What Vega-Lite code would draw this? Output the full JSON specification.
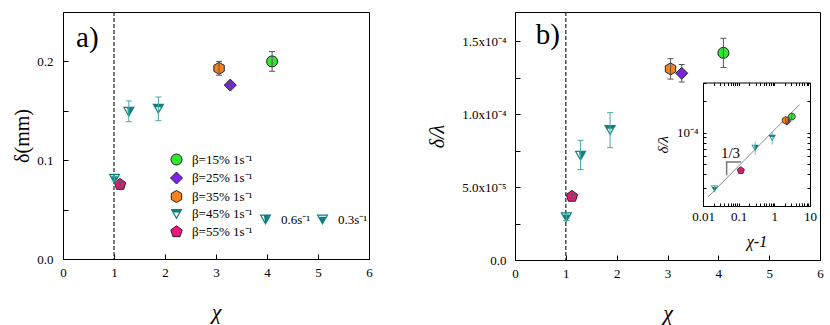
{
  "$schema": "https://vega.github.io/schema/vega-lite/v6.json",
  "background": "white",
  "padding": {"left": 12, "top": 10, "right": 5, "bottom": 5},
  "config": {
    "font": "Liberation Serif",
    "view": {"stroke": "black", "strokeWidth": 1},
    "axis": {"grid": false, "domainColor": "black", "tickColor": "black", "labelColor": "black", "titleColor": "black", "labelFont": "Liberation Serif", "titleFont": "Liberation Serif", "labelFontSize": 13, "titleFontWeight": "normal", "labelFlush": false, "labelOverlap": false},
    "legend": {"labelFont": "Liberation Serif", "labelFontSize": 13, "labelColor": "black"},
    "text": {"font": "Liberation Serif", "color": "black"}
  },
  "datasets": {
    "pts": [
      {"m": "β=15% 1s⁻¹", "chi": 4.10, "d": 0.200, "dlo": 0.190, "dhi": 0.210, "r": 1.42e-4, "rlo": 1.32e-4, "rhi": 1.52e-4, "x1": 3.10},
      {"m": "β=25% 1s⁻¹", "chi": 3.28, "d": 0.176, "dlo": 0.173, "dhi": 0.179, "r": 1.28e-4, "rlo": 1.22e-4, "rhi": 1.34e-4, "x1": 2.28},
      {"m": "β=35% 1s⁻¹", "chi": 3.06, "d": 0.193, "dlo": 0.186, "dhi": 0.200, "r": 1.31e-4, "rlo": 1.24e-4, "rhi": 1.38e-4, "x1": 2.06},
      {"m": "β=45% 1s⁻¹", "chi": 1.87, "d": 0.152, "dlo": 0.140, "dhi": 0.164, "r": 8.9e-5, "rlo": 7.7e-5, "rhi": 1.01e-4, "x1": 0.87},
      {"m": "β=55% 1s⁻¹", "chi": 1.12, "d": 0.0757, "dlo": 0.0737, "dhi": 0.0777, "r": 4.38e-5, "rlo": 4.25e-5, "rhi": 4.5e-5, "x1": 0.115},
      {"m": "0.6s⁻¹", "chi": 1.29, "d": 0.149, "dlo": 0.139, "dhi": 0.160, "r": 7.14e-5, "rlo": 6.2e-5, "rhi": 8.2e-5, "x1": 0.29},
      {"m": "0.3s⁻¹", "chi": 1.01, "d": 0.081, "dlo": 0.079, "dhi": 0.083, "r": 2.92e-5, "rlo": 2.7e-5, "rhi": 3.15e-5, "x1": 0.021}
    ],
    "fit": [
      {"x1": 0.014, "r": 2.45e-5},
      {"x1": 5.1, "r": 1.85e-4}
    ],
    "bracket": [
      {"x1": 0.046, "r": 3.93e-5, "o": 0},
      {"x1": 0.046, "r": 5.25e-5, "o": 1},
      {"x1": 0.117, "r": 5.25e-5, "o": 2}
    ]
  },
  "spacing": 54,
  "hconcat": [
    {
      "width": 306,
      "height": 247,
      "data": {"name": "pts"},
      "resolve": {
        "scale": {"shape": "independent", "fill": "independent", "stroke": "independent"},
        "legend": {"shape": "independent", "fill": "independent", "stroke": "independent"}
      },
      "layer": [
        {
          "data": {"values": [{}]},
          "mark": {"type": "rule", "strokeDash": [4, 2], "color": "#222", "strokeWidth": 1.2},
          "encoding": {"x": {"datum": 1, "type": "quantitative"}}
        },
        {
          "transform": [{"filter": "datum.m != '0.6s⁻¹' && datum.m != '0.3s⁻¹'"}],
          "mark": {"type": "point", "filled": true, "opacity": 1, "size": 144, "strokeWidth": 1},
          "encoding": {
            "x": {"field": "chi", "type": "quantitative", "scale": {"domain": [0, 6], "nice": false},
              "axis": {"orient": "bottom", "title": "χ", "titleFontSize": 22, "titleFontStyle": "italic", "titlePadding": 22, "values": [0, 1, 2, 3, 4, 5, 6], "format": "d", "tickSize": -5, "labelPadding": 12}},
            "y": {"field": "d", "type": "quantitative", "scale": {"domain": [0, 0.25], "nice": false},
              "axis": {"orient": "left", "title": "δ(mm)", "titleFontSize": 20, "titlePadding": 4, "values": [0, 0.05, 0.1, 0.15, 0.2], "labelExpr": "round(datum.value*20)%2==0 ? format(datum.value,'.1f') : ''", "tickSize": -5, "labelPadding": 15}},
            "shape": {"field": "m", "type": "nominal",
              "scale": {"domain": ["β=15% 1s⁻¹", "β=25% 1s⁻¹", "β=35% 1s⁻¹", "β=45% 1s⁻¹", "β=55% 1s⁻¹"],
                "range": ["M-0.92,0A0.92,0.92 0 1,0 0.92,0A0.92,0.92 0 1,0 -0.92,0Z", "M0,-1L1,0L0,1L-1,0Z", "M0,-1L0.866,-0.5L0.866,0.5L0,1L-0.866,0.5L-0.866,-0.5Z", "M-1,-0.85L1,-0.85L0,0.9ZM-0.66,-0.64L0,0.5L0.66,-0.64ZM-1,-0.85L1,-0.85L0.657,-0.25L-0.657,-0.25Z", "M0,-0.95L0.951,-0.26L0.588,0.86L-0.588,0.86L-0.951,-0.26Z"]},
              "legend": {"title": null, "orient": "none", "legendX": 107, "legendY": 141, "symbolSize": 144, "rowPadding": 1.5, "labelOffset": 9, "padding": 0, "symbolStrokeWidth": 1, "labelFontSize": 13}},
            "fill": {"field": "m", "type": "nominal",
              "scale": {"domain": ["β=15% 1s⁻¹", "β=25% 1s⁻¹", "β=35% 1s⁻¹", "β=45% 1s⁻¹", "β=55% 1s⁻¹"],
                "range": ["#32e632", "#7d22ee", "#f58220", "#10807f", "#f0147e"]},
              "legend": {"title": null, "orient": "none", "legendX": 107, "legendY": 141, "symbolSize": 144, "rowPadding": 1.5, "labelOffset": 9, "padding": 0, "symbolStrokeWidth": 1, "labelFontSize": 13}},
            "stroke": {"field": "m", "type": "nominal",
              "scale": {"domain": ["β=15% 1s⁻¹", "β=25% 1s⁻¹", "β=35% 1s⁻¹", "β=45% 1s⁻¹", "β=55% 1s⁻¹"],
                "range": ["#222", "#222", "#222", "transparent", "#222"]},
              "legend": {"title": null, "orient": "none", "legendX": 107, "legendY": 141, "symbolSize": 144, "rowPadding": 1.5, "labelOffset": 9, "padding": 0, "symbolStrokeWidth": 1, "labelFontSize": 13}}
          }
        },
        {
          "transform": [{"filter": "datum.m == '0.6s⁻¹' || datum.m == '0.3s⁻¹'"}],
          "mark": {"type": "point", "filled": true, "opacity": 1, "size": 144, "strokeWidth": 1},
          "encoding": {
            "x": {"field": "chi", "type": "quantitative"},
            "y": {"field": "d", "type": "quantitative"},
            "shape": {"field": "m", "type": "nominal",
              "scale": {"domain": ["0.6s⁻¹", "0.3s⁻¹"],
                "range": ["M-1,-0.85L1,-0.85L0,0.9ZM-0.66,-0.64L0,0.5L0.66,-0.64ZM-0.3,-0.85L1,-0.85L0,0.9Z", "M-1,-0.85L1,-0.85L0,0.9ZM-0.66,-0.64L0,0.5L0.66,-0.64ZM-0.771,-0.45L0.771,-0.45L0,0.9Z"]},
              "legend": {"title": null, "orient": "none", "direction": "horizontal", "legendX": 196, "legendY": 201, "symbolSize": 144, "columnPadding": 3, "labelOffset": 9, "padding": 0, "symbolStrokeWidth": 1, "labelFontSize": 13}},
            "fill": {"field": "m", "type": "nominal",
              "scale": {"domain": ["0.6s⁻¹", "0.3s⁻¹"], "range": ["#10807f", "#10807f"]},
              "legend": {"title": null, "orient": "none", "direction": "horizontal", "legendX": 196, "legendY": 201, "symbolSize": 144, "columnPadding": 3, "labelOffset": 9, "padding": 0, "symbolStrokeWidth": 1, "labelFontSize": 13}},
            "stroke": {"field": "m", "type": "nominal",
              "scale": {"domain": ["0.6s⁻¹", "0.3s⁻¹"], "range": ["transparent", "transparent"]},
              "legend": {"title": null, "orient": "none", "direction": "horizontal", "legendX": 196, "legendY": 201, "symbolSize": 144, "columnPadding": 3, "labelOffset": 9, "padding": 0, "symbolStrokeWidth": 1, "labelFontSize": 13}}
          }
        },
        {
          "mark": {"type": "rule", "strokeWidth": 1},
          "encoding": {
            "x": {"field": "chi", "type": "quantitative"},
            "y": {"field": "dlo", "type": "quantitative"},
            "y2": {"field": "dhi"},
            "color": {"field": "m", "type": "nominal", "legend": null,
              "scale": {"domain": ["β=15% 1s⁻¹", "β=25% 1s⁻¹", "β=35% 1s⁻¹", "β=45% 1s⁻¹", "β=55% 1s⁻¹", "0.6s⁻¹", "0.3s⁻¹"], "range": ["#555", "#555", "#555", "#4aa8a8", "#555", "#4aa8a8", "#4aa8a8"]}}
          }
        },
        {
          "mark": {"type": "tick", "orient": "horizontal", "size": 6, "thickness": 1, "opacity": 1},
          "encoding": {
            "x": {"field": "chi", "type": "quantitative"},
            "y": {"field": "dlo", "type": "quantitative"},
            "color": {"field": "m", "type": "nominal", "legend": null}
          }
        },
        {
          "mark": {"type": "tick", "orient": "horizontal", "size": 6, "thickness": 1, "opacity": 1},
          "encoding": {
            "x": {"field": "chi", "type": "quantitative"},
            "y": {"field": "dhi", "type": "quantitative"},
            "color": {"field": "m", "type": "nominal", "legend": null}
          }
        },
        {
          "data": {"values": [{}]},
          "mark": {"type": "text", "text": "a)", "fontSize": 29, "align": "left", "baseline": "alphabetic"},
          "encoding": {
            "x": {"datum": 0.255, "type": "quantitative"},
            "y": {"datum": 0.2144, "type": "quantitative"}
          }
        }
      ]
    },
    {
      "width": 305,
      "height": 248,
      "resolve": {
        "scale": {"x": "independent", "y": "independent", "shape": "independent", "fill": "independent", "stroke": "independent", "color": "independent"},
        "axis": {"x": "independent", "y": "independent"}
      },
      "layer": [
        {
          "data": {"name": "pts"},
          "layer": [
            {
              "data": {"values": [{}]},
              "mark": {"type": "rule", "strokeDash": [4, 2], "color": "#222", "strokeWidth": 1.2},
              "encoding": {"x": {"datum": 1, "type": "quantitative"}}
            },
            {
              "mark": {"type": "point", "filled": true, "opacity": 1, "size": 144, "strokeWidth": 1},
              "encoding": {
                "x": {"field": "chi", "type": "quantitative", "scale": {"domain": [0, 6], "nice": false},
                  "axis": {"orient": "bottom", "title": "χ", "titleFontSize": 22, "titleFontStyle": "italic", "titlePadding": 22, "values": [0, 1, 2, 3, 4, 5, 6], "format": "d", "tickSize": -5, "labelPadding": 12}},
                "y": {"field": "r", "type": "quantitative", "scale": {"domain": [0, 0.00017], "nice": false},
                  "axis": {"orient": "left", "title": "δ/λ", "titleFontSize": 20, "titleFontStyle": "italic", "titlePadding": 14, "values": [0, 0.000025, 0.00005, 0.000075, 0.0001, 0.000125, 0.00015], "labelExpr": "round(datum.value*40000)==0 ? '0.0' : round(datum.value*40000)==2 ? '5.0x10⁻⁵' : round(datum.value*40000)==4 ? '1.0x10⁻⁴' : round(datum.value*40000)==6 ? '1.5x10⁻⁴' : ''", "tickSize": -5, "labelPadding": 14}},
                "shape": {"field": "m", "type": "nominal", "legend": null,
                  "scale": {"domain": ["β=15% 1s⁻¹", "β=25% 1s⁻¹", "β=35% 1s⁻¹", "β=45% 1s⁻¹", "β=55% 1s⁻¹", "0.6s⁻¹", "0.3s⁻¹"],
                    "range": ["M-0.92,0A0.92,0.92 0 1,0 0.92,0A0.92,0.92 0 1,0 -0.92,0Z", "M0,-1L1,0L0,1L-1,0Z", "M0,-1L0.866,-0.5L0.866,0.5L0,1L-0.866,0.5L-0.866,-0.5Z", "M-1,-0.85L1,-0.85L0,0.9ZM-0.66,-0.64L0,0.5L0.66,-0.64ZM-1,-0.85L1,-0.85L0.657,-0.25L-0.657,-0.25Z", "M0,-0.95L0.951,-0.26L0.588,0.86L-0.588,0.86L-0.951,-0.26Z", "M-1,-0.85L1,-0.85L0,0.9ZM-0.66,-0.64L0,0.5L0.66,-0.64ZM-0.3,-0.85L1,-0.85L0,0.9Z", "M-1,-0.85L1,-0.85L0,0.9ZM-0.66,-0.64L0,0.5L0.66,-0.64ZM-0.771,-0.45L0.771,-0.45L0,0.9Z"]}},
                "fill": {"field": "m", "type": "nominal", "legend": null,
                  "scale": {"domain": ["β=15% 1s⁻¹", "β=25% 1s⁻¹", "β=35% 1s⁻¹", "β=45% 1s⁻¹", "β=55% 1s⁻¹", "0.6s⁻¹", "0.3s⁻¹"], "range": ["#32e632", "#7d22ee", "#f58220", "#10807f", "#f0147e", "#10807f", "#10807f"]}},
                "stroke": {"field": "m", "type": "nominal", "legend": null,
                  "scale": {"domain": ["β=15% 1s⁻¹", "β=25% 1s⁻¹", "β=35% 1s⁻¹", "β=45% 1s⁻¹", "β=55% 1s⁻¹", "0.6s⁻¹", "0.3s⁻¹"], "range": ["#222", "#222", "#222", "transparent", "#222", "transparent", "transparent"]}}
              }
            },
            {
              "mark": {"type": "rule", "strokeWidth": 1},
              "encoding": {
                "x": {"field": "chi", "type": "quantitative"},
                "y": {"field": "rlo", "type": "quantitative"},
                "y2": {"field": "rhi"},
                "color": {"field": "m", "type": "nominal", "legend": null,
                  "scale": {"domain": ["β=15% 1s⁻¹", "β=25% 1s⁻¹", "β=35% 1s⁻¹", "β=45% 1s⁻¹", "β=55% 1s⁻¹", "0.6s⁻¹", "0.3s⁻¹"], "range": ["#555", "#555", "#555", "#4aa8a8", "#555", "#4aa8a8", "#4aa8a8"]}}
              }
            },
            {
              "mark": {"type": "tick", "orient": "horizontal", "size": 6, "thickness": 1, "opacity": 1},
              "encoding": {
                "x": {"field": "chi", "type": "quantitative"},
                "y": {"field": "rlo", "type": "quantitative"},
                "color": {"field": "m", "type": "nominal", "legend": null}
              }
            },
            {
              "mark": {"type": "tick", "orient": "horizontal", "size": 6, "thickness": 1, "opacity": 1},
              "encoding": {
                "x": {"field": "chi", "type": "quantitative"},
                "y": {"field": "rhi", "type": "quantitative"},
                "color": {"field": "m", "type": "nominal", "legend": null}
              }
            },
            {
              "data": {"values": [{}]},
              "mark": {"type": "text", "text": "b)", "fontSize": 29, "align": "left", "baseline": "alphabetic"},
              "encoding": {
                "x": {"datum": 0.41, "type": "quantitative"},
                "y": {"datum": 0.000148, "type": "quantitative"}
              }
            }
          ]
        },
        {
          "data": {"values": [{}]},
          "mark": {"type": "rect", "fill": "white", "stroke": null},
          "encoding": {
            "x": {"datum": 0.01, "type": "quantitative", "scale": {"type": "log", "domain": [0.01, 10], "range": [188, 295], "nice": false},
              "axis": {"orient": "top", "offset": -70.5, "labels": false, "title": null, "tickSize": -3, "zindex": 1, "values": [0.01, 0.02, 0.03, 0.04, 0.05, 0.06, 0.07, 0.08, 0.09, 0.1, 0.2, 0.3, 0.4, 0.5, 0.6, 0.7, 0.8, 0.9, 1, 2, 3, 4, 5, 6, 7, 8, 9, 10]}},
            "x2": {"datum": 10},
            "y": {"datum": 0.00002, "type": "quantitative", "scale": {"type": "log", "domain": [0.00002, 0.0003], "range": [194, 70.5], "nice": false},
              "axis": {"orient": "right", "offset": -10, "labels": false, "title": null, "tickSize": -3, "zindex": 1, "values": [0.00002, 0.00003, 0.00004, 0.00005, 0.00006, 0.00007, 0.00008, 0.00009, 0.0001, 0.0002, 0.0003]}},
            "y2": {"datum": 0.0003}
          }
        },
        {
          "layer": [
            {
              "data": {"name": "fit"},
              "mark": {"type": "line", "color": "#888", "strokeWidth": 1},
              "encoding": {
                "x": {"field": "x1", "type": "quantitative", "scale": {"type": "log", "domain": [0.01, 10], "range": [188, 295], "nice": false},
                  "axis": {"orient": "bottom", "offset": -54, "title": "χ-1", "titleFontStyle": "italic", "titleFontSize": 16, "titlePadding": 10, "tickSize": -3, "labelPadding": 7, "zindex": 1,
                    "values": [0.01, 0.02, 0.03, 0.04, 0.05, 0.06, 0.07, 0.08, 0.09, 0.1, 0.2, 0.3, 0.4, 0.5, 0.6, 0.7, 0.8, 0.9, 1, 2, 3, 4, 5, 6, 7, 8, 9, 10],
                    "labelExpr": "abs(log(datum.value)/LN10 - round(log(datum.value)/LN10)) < 0.001 ? (round(log(datum.value)/LN10) == -2 ? '0.01' : round(log(datum.value)/LN10) == -1 ? '0.1' : round(log(datum.value)/LN10) == 0 ? '1' : '10') : ''"}},
                "y": {"field": "r", "type": "quantitative", "scale": {"type": "log", "domain": [0.00002, 0.0003], "range": [194, 70.5], "nice": false},
                  "axis": {"orient": "left", "offset": -188, "title": "δ/λ", "titleFontStyle": "italic", "titleFontSize": 15, "titlePadding": 6, "tickSize": -3, "labelPadding": 8, "zindex": 1,
                    "values": [0.00002, 0.00003, 0.00004, 0.00005, 0.00006, 0.00007, 0.00008, 0.00009, 0.0001, 0.0002, 0.0003],
                    "labelExpr": "abs(datum.value - 0.0001) < 1e-9 ? '10⁻⁴' : ''"}}
              }
            },
            {
              "data": {"name": "bracket"},
              "mark": {"type": "line", "color": "#777", "strokeWidth": 1.5},
              "encoding": {
                "x": {"field": "x1", "type": "quantitative"},
                "y": {"field": "r", "type": "quantitative"},
                "order": {"field": "o", "type": "quantitative"}
              }
            },
            {
              "data": {"values": [{}]},
              "mark": {"type": "text", "text": "1/3", "fontSize": 15, "color": "black"},
              "encoding": {
                "x": {"datum": 0.059, "type": "quantitative"},
                "y": {"datum": 0.000064, "type": "quantitative"}
              }
            },
            {
              "data": {"name": "pts"},
              "mark": {"type": "point", "filled": true, "opacity": 1, "size": 56, "strokeWidth": 0.8},
              "encoding": {
                "x": {"field": "x1", "type": "quantitative"},
                "y": {"field": "r", "type": "quantitative"},
                "shape": {"field": "m", "type": "nominal", "legend": null,
                  "scale": {"domain": ["β=15% 1s⁻¹", "β=25% 1s⁻¹", "β=35% 1s⁻¹", "β=45% 1s⁻¹", "β=55% 1s⁻¹", "0.6s⁻¹", "0.3s⁻¹"],
                    "range": ["M-0.92,0A0.92,0.92 0 1,0 0.92,0A0.92,0.92 0 1,0 -0.92,0Z", "M0,-1L1,0L0,1L-1,0Z", "M0,-1L0.866,-0.5L0.866,0.5L0,1L-0.866,0.5L-0.866,-0.5Z", "M-1,-0.85L1,-0.85L0,0.9ZM-0.66,-0.64L0,0.5L0.66,-0.64ZM-1,-0.85L1,-0.85L0.657,-0.25L-0.657,-0.25Z", "M0,-0.95L0.951,-0.26L0.588,0.86L-0.588,0.86L-0.951,-0.26Z", "M-1,-0.85L1,-0.85L0,0.9ZM-0.66,-0.64L0,0.5L0.66,-0.64ZM-0.3,-0.85L1,-0.85L0,0.9Z", "M-1,-0.85L1,-0.85L0,0.9ZM-0.66,-0.64L0,0.5L0.66,-0.64ZM-0.771,-0.45L0.771,-0.45L0,0.9Z"]}},
                "fill": {"field": "m", "type": "nominal", "legend": null,
                  "scale": {"domain": ["β=15% 1s⁻¹", "β=25% 1s⁻¹", "β=35% 1s⁻¹", "β=45% 1s⁻¹", "β=55% 1s⁻¹", "0.6s⁻¹", "0.3s⁻¹"], "range": ["#32e632", "#7d22ee", "#f58220", "#10807f", "#f0147e", "#10807f", "#10807f"]}},
                "stroke": {"field": "m", "type": "nominal", "legend": null,
                  "scale": {"domain": ["β=15% 1s⁻¹", "β=25% 1s⁻¹", "β=35% 1s⁻¹", "β=45% 1s⁻¹", "β=55% 1s⁻¹", "0.6s⁻¹", "0.3s⁻¹"], "range": ["#222", "#222", "#222", "transparent", "#222", "transparent", "transparent"]}}
              }
            },
            {
              "data": {"name": "pts"},
              "mark": {"type": "rule", "strokeWidth": 0.8},
              "encoding": {
                "x": {"field": "x1", "type": "quantitative"},
                "y": {"field": "rlo", "type": "quantitative"},
                "y2": {"field": "rhi"},
                "color": {"field": "m", "type": "nominal", "legend": null,
                  "scale": {"domain": ["β=15% 1s⁻¹", "β=25% 1s⁻¹", "β=35% 1s⁻¹", "β=45% 1s⁻¹", "β=55% 1s⁻¹", "0.6s⁻¹", "0.3s⁻¹"], "range": ["#555", "#555", "#555", "#4aa8a8", "#555", "#4aa8a8", "#4aa8a8"]}}
              }
            }
          ]
        }
      ]
    }
  ]
}
